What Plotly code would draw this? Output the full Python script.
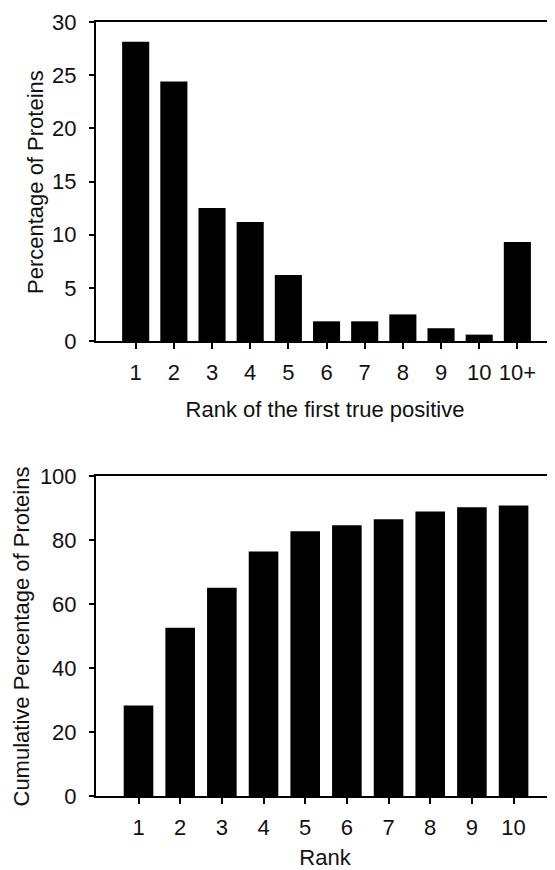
import plotly.graph_objects as go

# Top panel: distribution of rank of first true positive
rank_labels = ["1", "2", "3", "4", "5", "6", "7", "8", "9", "10", "10+"]
pct_proteins = [28.15, 24.4, 12.5, 11.2, 6.2, 1.85, 1.85, 2.5, 1.2, 0.6, 9.3]

# Bottom panel: cumulative percentage
cum_labels = ["1", "2", "3", "4", "5", "6", "7", "8", "9", "10"]
cum_pct = [28.3, 52.6, 65.1, 76.4, 82.7, 84.6, 86.5, 88.9, 90.2, 90.8]

FONT = "Liberation Sans, Arial, sans-serif"
# the page body adds an 8px margin, so the figure is sized to the visible area
W, H = 547, 862
ML, MR, MT, MB = 88, 1, 14, 74
plot_h = H - MT - MB
plot_w = W - ML - MR


def frac(ypix):
    return (H - MB - ypix) / plot_h


def xfrac(xpix):
    return (xpix - ML) / plot_w


fig = go.Figure()
fig.add_trace(go.Bar(x=rank_labels, y=pct_proteins, marker=dict(color="black", line=dict(width=0)),
                     xaxis="x", yaxis="y", showlegend=False))
fig.add_trace(go.Bar(x=cum_labels, y=cum_pct, marker=dict(color="black", line=dict(width=0)),
                     xaxis="x2", yaxis="y2", showlegend=False))

axis_common = dict(showline=True, linecolor="black", linewidth=2, mirror=True,
                   ticks="outside", tickcolor="black", tickwidth=1.5,
                   showgrid=False, zeroline=False, automargin=False,
                   tickfont=dict(family=FONT, size=22, color="#111"))
title_font = dict(family=FONT, size=22, color="#111")

fig.update_layout(
    width=W, height=H,
    margin=dict(l=ML, r=MR, t=MT, b=MB),
    paper_bgcolor="white", plot_bgcolor="white",
    bargap=0.29,
    xaxis=dict(domain=[0, 1], anchor="y", type="category", range=[-1.04, 10.96],
               ticklen=6, ticklabelstandoff=5,
               title=dict(text="Rank of the first true positive", font=title_font, standoff=17),
               **axis_common),
    yaxis=dict(domain=[frac(333), 1.0], anchor="x", range=[0, 30], tickvals=[0, 5, 10, 15, 20, 25, 30],
               ticklen=5, ticklabelstandoff=8, **axis_common),
    xaxis2=dict(domain=[0, 1], anchor="y2", type="category", range=[-1.02, 9.97],
                ticklen=6, ticklabelstandoff=5,
                title=dict(text="Rank", font=title_font, standoff=15),
                **axis_common),
    yaxis2=dict(domain=[0, frac(468)], anchor="x2", range=[0, 100], tickvals=[0, 20, 40, 60, 80, 100],
                ticklen=5, ticklabelstandoff=8, **axis_common),
    annotations=[
        dict(text="Percentage of Proteins", xref="paper", yref="paper",
             x=xfrac(28), y=frac(174), xanchor="center", yanchor="middle",
             textangle=-90, showarrow=False, font=title_font),
        dict(text="Cumulative Percentage of Proteins", xref="paper", yref="paper",
             x=xfrac(13), y=frac(628.5), xanchor="center", yanchor="middle",
             textangle=-90, showarrow=False, font=title_font),
    ],
)

fig.write_html("out.html")
